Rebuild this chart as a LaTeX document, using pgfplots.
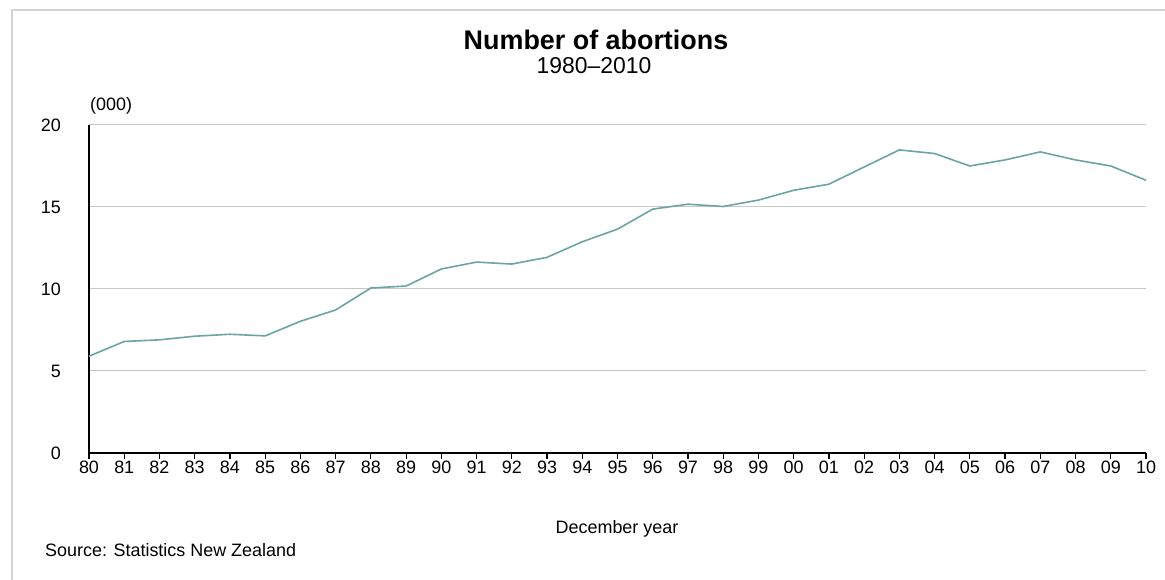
\documentclass[border=0pt]{standalone}
\usepackage{pgfplots}
\pgfplotsset{compat=1.18}
\usepackage{fontspec}
\setmainfont{Liberation Sans}
\definecolor{linec}{RGB}{108,163,163}
\definecolor{gridc}{RGB}{200,200,200}
\definecolor{framec}{RGB}{210,210,210}
\begin{document}
\begin{tikzpicture}[x=1bp,y=1bp]
\useasboundingbox (0,0) rectangle (1165,580);
\draw[framec, line width=1.5bp] (12,0) -- (12,570) -- (1165,570);
\node[font=\fontsize{27}{29}\selectfont\bfseries] at (596,540) {Number of abortions};
\node[font=\fontsize{23}{25}\selectfont] at (594,514) {1980--2010};
\node[font=\fontsize{18}{20}\selectfont, anchor=west, inner sep=0pt] at (90,474) {(000)};
\node[font=\fontsize{18}{20}\selectfont] at (617,51) {December year};
\node[font=\fontsize{18}{20}\selectfont, anchor=west, inner sep=0pt] at (45,30) {Source: Statistics New Zealand};
\begin{axis}[
  at={(89bp,127bp)}, anchor=south west,
  scale only axis, width=1057bp, height=328bp,
  xmin=0, xmax=30, ymin=0, ymax=20,
  axis x line=bottom, axis y line=left,
  axis line style={-, black, line width=1.3bp},
  xtick={0,...,30},
  xticklabels={80,81,82,83,84,85,86,87,88,89,90,91,92,93,94,95,96,97,98,99,00,01,02,03,04,05,06,07,08,09,10},
  ytick={0,5,10,15,20},
  ymajorgrids, grid style={gridc, line width=1bp},
  tick align=outside, major tick length=6bp,
  xtick style={black, line width=1.2bp},
  ytick style={draw=none},
  /pgf/number format/assume math mode=true,
  tick label style={font=\fontsize{18}{20}\selectfont},
  xticklabel style={inner sep=0pt, yshift=-2bp},
  yticklabel style={inner sep=0pt, xshift=-22bp},
  clip=false,
]
\addplot[linec, line width=1.6bp, mark=none] coordinates {
(0,5.90) (1,6.80) (2,6.90) (3,7.12) (4,7.24) (5,7.14) (6,8.03) (7,8.72)
(8,10.06) (9,10.18) (10,11.22) (11,11.64) (12,11.52) (13,11.93) (14,12.88)
(15,13.65) (16,14.87) (17,15.17) (18,15.03) (19,15.42) (20,16.02) (21,16.39)
(22,17.44) (23,18.48) (24,18.26) (25,17.50) (26,17.87) (27,18.36) (28,17.87)
(29,17.50) (30,16.63)
};
\end{axis}
\end{tikzpicture}
\end{document}
